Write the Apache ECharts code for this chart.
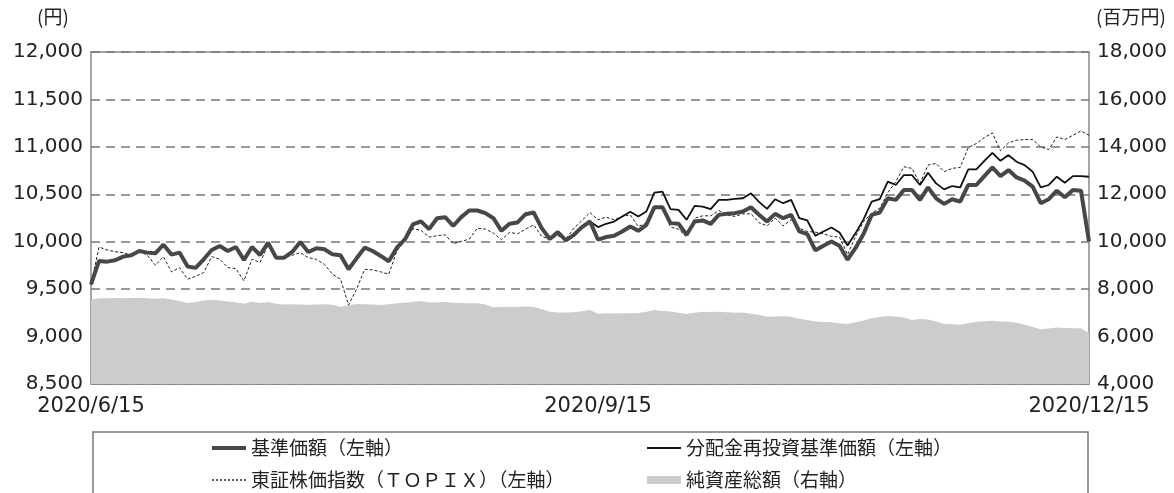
<!DOCTYPE html>
<html>
<head>
<meta charset="utf-8">
<script src="https://cdn.jsdelivr.net/npm/echarts@6/dist/echarts.min.js"></script>
<style>
  html, body { margin: 0; padding: 0; background: #fff; }
  #main { width: 1174px; height: 493px; }
</style>
</head>
<body>
<div id="main"></div>
<script>
// 営業日
var dates = [
  '2020/6/15','2020/6/16','2020/6/17','2020/6/18','2020/6/19','2020/6/22','2020/6/23','2020/6/24','2020/6/25','2020/6/26','2020/6/29','2020/6/30',
  '2020/7/1','2020/7/2','2020/7/3','2020/7/6','2020/7/7','2020/7/8','2020/7/9','2020/7/10','2020/7/13','2020/7/14','2020/7/15','2020/7/16','2020/7/17','2020/7/20','2020/7/21','2020/7/22','2020/7/27','2020/7/28','2020/7/29','2020/7/30','2020/7/31',
  '2020/8/3','2020/8/4','2020/8/5','2020/8/6','2020/8/7','2020/8/11','2020/8/12','2020/8/13','2020/8/14','2020/8/17','2020/8/18','2020/8/19','2020/8/20','2020/8/21','2020/8/24','2020/8/25','2020/8/26','2020/8/27','2020/8/28','2020/8/31',
  '2020/9/1','2020/9/2','2020/9/3','2020/9/4','2020/9/7','2020/9/8','2020/9/9','2020/9/10','2020/9/11','2020/9/14','2020/9/15','2020/9/16','2020/9/17','2020/9/18','2020/9/23','2020/9/24','2020/9/25','2020/9/28','2020/9/29','2020/9/30',
  '2020/10/1','2020/10/2','2020/10/5','2020/10/6','2020/10/7','2020/10/8','2020/10/9','2020/10/12','2020/10/13','2020/10/14','2020/10/15','2020/10/16','2020/10/19','2020/10/20','2020/10/21','2020/10/22','2020/10/23','2020/10/26','2020/10/27','2020/10/28','2020/10/29','2020/10/30',
  '2020/11/2','2020/11/4','2020/11/5','2020/11/6','2020/11/9','2020/11/10','2020/11/11','2020/11/12','2020/11/13','2020/11/16','2020/11/17','2020/11/18','2020/11/19','2020/11/20','2020/11/24','2020/11/25','2020/11/26','2020/11/27','2020/11/30',
  '2020/12/1','2020/12/2','2020/12/3','2020/12/4','2020/12/7','2020/12/8','2020/12/9','2020/12/10','2020/12/11','2020/12/14','2020/12/15'
];
var shownLabels = ['2020/6/15', '2020/9/15', '2020/12/15'];
var tickDates = ['2020/9/15'];

// 基準価額（円）
var nav = [
  9550, 9797, 9790, 9805, 9843, 9857, 9902, 9885, 9878, 9969,
  9864, 9885, 9738, 9724, 9815, 9913, 9955, 9902, 9944, 9808,
  9944, 9860, 9990, 9832, 9832, 9892, 9997, 9892, 9930, 9920,
  9867, 9857, 9710, 9825, 9937, 9902, 9850, 9794, 9937, 10024,
  10182, 10215, 10133, 10248, 10259, 10168, 10259, 10329, 10329, 10301,
  10248, 10115, 10189, 10203, 10290, 10308, 10143, 10028, 10101, 10014,
  10073, 10154, 10213, 10021, 10049, 10063, 10108, 10161, 10115, 10178,
  10364, 10364, 10196, 10189, 10073, 10213, 10224, 10189, 10283, 10294,
  10301, 10318, 10364, 10285, 10213, 10294, 10248, 10283, 10108, 10080,
  9909, 9958, 10003, 9958, 9811, 9934, 10084, 10283, 10308, 10458,
  10441, 10545, 10545, 10441, 10573, 10458, 10399, 10448, 10423, 10598,
  10598, 10692, 10783, 10692, 10755, 10678, 10643, 10580, 10406, 10448,
  10538, 10469, 10545, 10538, 10003
];
// 分配金再投資基準価額（円）
var navReinvest = [
  9550, 9797, 9790, 9805, 9843, 9857, 9902, 9885, 9878, 9969,
  9864, 9885, 9738, 9724, 9815, 9913, 9955, 9902, 9944, 9808,
  9944, 9860, 9990, 9832, 9832, 9892, 9997, 9892, 9930, 9920,
  9867, 9857, 9710, 9825, 9937, 9902, 9850, 9794, 9937, 10024,
  10182, 10215, 10133, 10248, 10259, 10168, 10259, 10329, 10329, 10301,
  10248, 10115, 10189, 10203, 10290, 10308, 10143, 10028, 10101, 10014,
  10073, 10154, 10213, 10154, 10189, 10213, 10266, 10315, 10266, 10318,
  10518, 10528, 10343, 10336, 10231, 10378, 10371, 10343, 10441, 10441,
  10451, 10458, 10511, 10420, 10346, 10448, 10406, 10441, 10248, 10224,
  10063, 10108, 10150, 10098, 9961, 10091, 10238, 10423, 10448, 10633,
  10598, 10703, 10703, 10598, 10727, 10615, 10552, 10587, 10573, 10762,
  10762, 10853, 10937, 10853, 10913, 10843, 10808, 10738, 10573, 10598,
  10685, 10622, 10692, 10692, 10685
];
// 東証株価指数（TOPIX）
var topix = [
  9550, 9944, 9913, 9895, 9885, 9857, 9902, 9857, 9752, 9843,
  9682, 9727, 9605, 9633, 9675, 9843, 9815, 9727, 9717, 9587,
  9815, 9780, 9965, 9832, 9832, 9857, 9885, 9832, 9815, 9762,
  9657, 9605, 9332, 9500, 9710, 9703, 9682, 9657, 9902, 10007,
  10136, 10120, 10049, 10063, 10073, 9979, 10003, 10028, 10143, 10133,
  10091, 10021, 10098, 10084, 10133, 10178, 10056, 10028, 10063, 10028,
  10143, 10224, 10308, 10231, 10259, 10231, 10266, 10283, 10161, 10196,
  10364, 10353, 10154, 10133, 10049, 10248, 10273, 10273, 10329, 10283,
  10266, 10294, 10294, 10200, 10168, 10248, 10168, 10231, 10143, 10108,
  10101, 10084, 10056, 10049, 9864, 10056, 10213, 10301, 10353, 10517,
  10633, 10790, 10773, 10615, 10808, 10825, 10738, 10773, 10783, 10993,
  11035, 11098, 11147, 10958, 11042, 11070, 11077, 11077, 11000, 10972,
  11105, 11077, 11122, 11168, 11122
];
// 純資産総額（百万円）
var netAssets = [
  7560, 7620, 7620, 7630, 7620, 7630, 7640, 7620, 7600, 7620,
  7560, 7500, 7420, 7460, 7520, 7550, 7520, 7480, 7450, 7380,
  7470, 7420, 7450, 7380, 7350, 7360, 7350, 7340, 7350, 7360,
  7340, 7260, 7320, 7370, 7360, 7350, 7330, 7360, 7400, 7430,
  7470, 7500, 7440, 7450, 7460, 7430, 7420, 7400, 7410, 7350,
  7240, 7250, 7260, 7250, 7270, 7260, 7150, 7050, 7020, 7010,
  7030, 7070, 7120, 6960, 6980, 6970, 6980, 6980, 6990, 7050,
  7120, 7080, 7060, 7000, 6950, 7000, 7050, 7040, 7050, 7030,
  7000, 7010, 6960, 6920, 6840, 6850, 6860, 6840, 6750, 6700,
  6640, 6610, 6600, 6560, 6530, 6600, 6680, 6770, 6830, 6870,
  6850, 6800, 6700, 6740, 6720, 6640, 6530, 6520, 6500, 6560,
  6620, 6650, 6670, 6640, 6630, 6580, 6500, 6400, 6310, 6340,
  6380, 6360, 6350, 6350, 6150
];

var FONT = "'Noto Sans CJK JP', 'Noto Sans', sans-serif";
var NUMFONT = "'DejaVu Sans', sans-serif";
var chart = echarts.init(document.getElementById('main'), null, {renderer: 'canvas'});

// 凡例（1項目ずつ配置）
function legendItem(item, left, top, h) {
  return {
    data: [item],
    left: left,
    top: top,
    orient: 'horizontal',
    selectedMode: false,
    itemWidth: 34,
    itemHeight: h,
    itemGap: 0,
    padding: 0,
    textStyle: {fontSize: 19, color: '#222', fontFamily: FONT, lineHeight: 22}
  };
}
var dottedIcon = 'path://M0,0h2v1.5h-2z M4,0h2v1.5h-2z M8,0h2v1.5h-2z M12,0h2v1.5h-2z M16,0h2v1.5h-2z M20,0h2v1.5h-2z M24,0h2v1.5h-2z M28,0h2v1.5h-2z M32,0h2v1.5h-2z';

var option = {
  animation: false,
  backgroundColor: '#fff',
  grid: {
    left: 91, right: 85, top: 52, bottom: 109,
    show: true, borderColor: '#888', borderWidth: 1.5, containLabel: false
  },
  graphic: [
    {type: 'rect', shape: {x: 93, y: 432, width: 995, height: 80},
      style: {fill: 'none', stroke: '#777', lineWidth: 1.5}},
    {type: 'text', left: 37, top: 7,
      style: {text: '(円)', fontSize: 19, fill: '#222', fontFamily: FONT}},
    {type: 'text', left: 1096, top: 7,
      style: {text: '(百万円)', fontSize: 19, fill: '#222', fontFamily: FONT}}
  ],
  legend: [
    legendItem({name: '基準価額（左軸）', icon: 'rect', itemStyle: {color: '#474747'}}, 212, 437, 4),
    legendItem({name: '東証株価指数（ＴＯＰＩＸ）（左軸）', icon: dottedIcon, itemStyle: {color: '#222'}}, 212, 469, 1.5),
    legendItem({name: '分配金再投資基準価額（左軸）', icon: 'rect', itemStyle: {color: '#111'}}, 647, 437, 2),
    legendItem({name: '純資産総額（右軸）', icon: 'rect', itemStyle: {color: '#cccccc'}}, 647, 469, 8)
  ],
  xAxis: {
    type: 'category',
    data: dates,
    boundaryGap: false,
    axisLine: {show: true, lineStyle: {color: '#888', width: 1.5}},
    axisTick: {
      show: true, inside: true, length: 7,
      lineStyle: {color: '#666', width: 1.5},
      interval: function (idx, val) { return tickDates.indexOf(val) >= 0; }
    },
    axisLabel: {
      interval: function (idx, val) { return shownLabels.indexOf(val) >= 0; },
      showMinLabel: true, showMaxLabel: true,
      margin: 12, fontSize: 21, color: '#222', fontFamily: NUMFONT
    },
    splitLine: {show: false}
  },
  yAxis: [
    {
      type: 'value', min: 8500, max: 12000, interval: 500,
      axisLine: {show: false}, axisTick: {show: false},
      axisLabel: {
        margin: 8, fontSize: 20, color: '#222', fontFamily: NUMFONT,
        formatter: function (v) { return v.toLocaleString('en-US'); }
      },
      splitLine: {show: true, lineStyle: {color: '#777', width: 1.5, type: [9, 6]}}
    },
    {
      type: 'value', min: 4000, max: 18000, interval: 2000,
      axisLine: {show: false}, axisTick: {show: false},
      axisLabel: {
        margin: 8, fontSize: 20, color: '#222', fontFamily: NUMFONT,
        formatter: function (v) { return v.toLocaleString('en-US'); }
      },
      splitLine: {show: false}
    }
  ],
  series: [
    {
      name: '純資産総額（右軸）', type: 'line', yAxisIndex: 1, data: netAssets,
      symbol: 'none', smooth: false, z: 1,
      lineStyle: {width: 0, color: '#cccccc'},
      itemStyle: {color: '#cccccc'},
      areaStyle: {color: '#cccccc', opacity: 1, origin: 'start'}
    },
    {
      name: '東証株価指数（ＴＯＰＩＸ）（左軸）', type: 'line', data: topix,
      symbol: 'none', z: 2,
      lineStyle: {width: 1, color: '#222', type: [3, 2]},
      itemStyle: {color: '#222'}
    },
    {
      name: '分配金再投資基準価額（左軸）', type: 'line', data: navReinvest,
      symbol: 'none', z: 3,
      lineStyle: {width: 1.8, color: '#111'},
      itemStyle: {color: '#111'}
    },
    {
      name: '基準価額（左軸）', type: 'line', data: nav,
      symbol: 'none', z: 4,
      lineStyle: {width: 4, color: '#474747'},
      itemStyle: {color: '#474747'}
    }
  ]
};
chart.setOption(option);
</script>
</body>
</html>
